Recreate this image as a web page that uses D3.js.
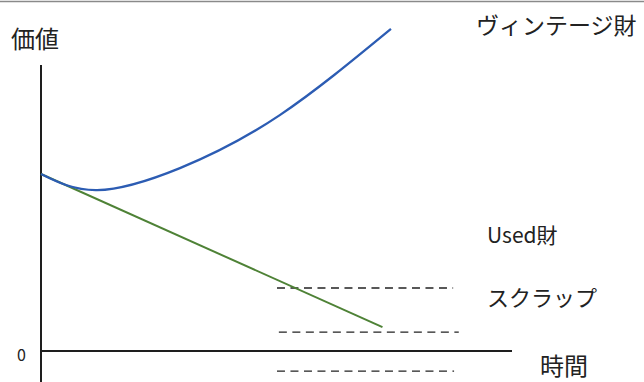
<!DOCTYPE html>
<html lang="ja">
<head>
<meta charset="utf-8">
<title>価値と時間</title>
<script src="https://d3js.org/d3.v7.min.js"></script>
<style>
  body { margin: 0; background: #fff; }
  text { font-family: "Noto Sans CJK JP", "Noto Sans", sans-serif; fill: #222; }
</style>
</head>
<body>
<script>
// 時間 (x) と 価値 (y), 任意単位
var vintageX = [0, 1.19, 2.95, 5.07, 7.43];
var vintageY = [5.71, 5.19, 5.90, 7.61, 10.39];
var usedX = [0, 7.25];
var usedY = [5.71, 0.77];
var scrapLevels = [2.03, 0.61, -0.65];
var scrapStart = [5.01, 5.05, 5.01];
var scrapEnd = [8.75, 8.87, 8.77];
var labels = ["ヴィンテージ財", "Used財", "スクラップ"];

var W = 644, H = 382;
var x = d3.scaleLinear().domain([0, 10]).range([41, 512]);
var y = d3.scaleLinear().domain([0, 11]).range([351, 10]);

var svg = d3.select("body").append("svg").attr("width", W).attr("height", H);

// top border
svg.append("line").attr("x1", 0).attr("x2", W).attr("y1", 1.5).attr("y2", 1.5)
  .style("stroke", "#8a8a8a").style("stroke-width", 1.5);

// axes
svg.append("line").attr("x1", x(0)).attr("x2", x(0)).attr("y1", 65).attr("y2", H)
  .style("stroke", "#1e1e1e").style("stroke-width", 2);
svg.append("line").attr("x1", x(0)).attr("x2", x(10)).attr("y1", y(0)).attr("y2", y(0))
  .style("stroke", "#1e1e1e").style("stroke-width", 2);

// scrap dashed levels
svg.selectAll(".scrap").data(scrapLevels).enter().append("line")
  .attr("class", "scrap")
  .attr("x1", function(d, i) { return x(scrapStart[i]); })
  .attr("x2", function(d, i) { return x(scrapEnd[i]); })
  .attr("y1", function(d) { return y(d); })
  .attr("y2", function(d) { return y(d); })
  .style("stroke", "#222").style("stroke-width", 1.4)
  .style("stroke-dasharray", "8,5.5");

var line = d3.line()
  .x(function(d) { return x(d[0]); })
  .y(function(d) { return y(d[1]); });

svg.append("path")
  .datum(usedX.map(function(v, i) { return [v, usedY[i]]; }))
  .attr("d", line)
  .style("fill", "none").style("stroke", "#4e8236").style("stroke-width", 2);

svg.append("path")
  .datum(vintageX.map(function(v, i) { return [v, vintageY[i]]; }))
  .attr("d", line.curve(d3.curveNatural))
  .style("fill", "none").style("stroke", "#2c5cb3").style("stroke-width", 2.3);

// texts
svg.append("text").attr("x", 11).attr("y", 48).style("font-size", "24px").text("価値");
svg.append("text").attr("x", 540).attr("y", 375).style("font-size", "24px").text("時間");
svg.append("text").attr("x", 26).attr("y", 361).attr("text-anchor", "end")
  .style("font-size", "16px").text("0");
svg.append("text").attr("x", 476).attr("y", 34).style("font-size", "23px").text(labels[0]);
svg.append("text").attr("x", 487).attr("y", 243).style("font-size", "21px").text(labels[1]);
svg.append("text").attr("x", 487).attr("y", 306).style("font-size", "22px").text(labels[2]);
</script>
</body>
</html>
